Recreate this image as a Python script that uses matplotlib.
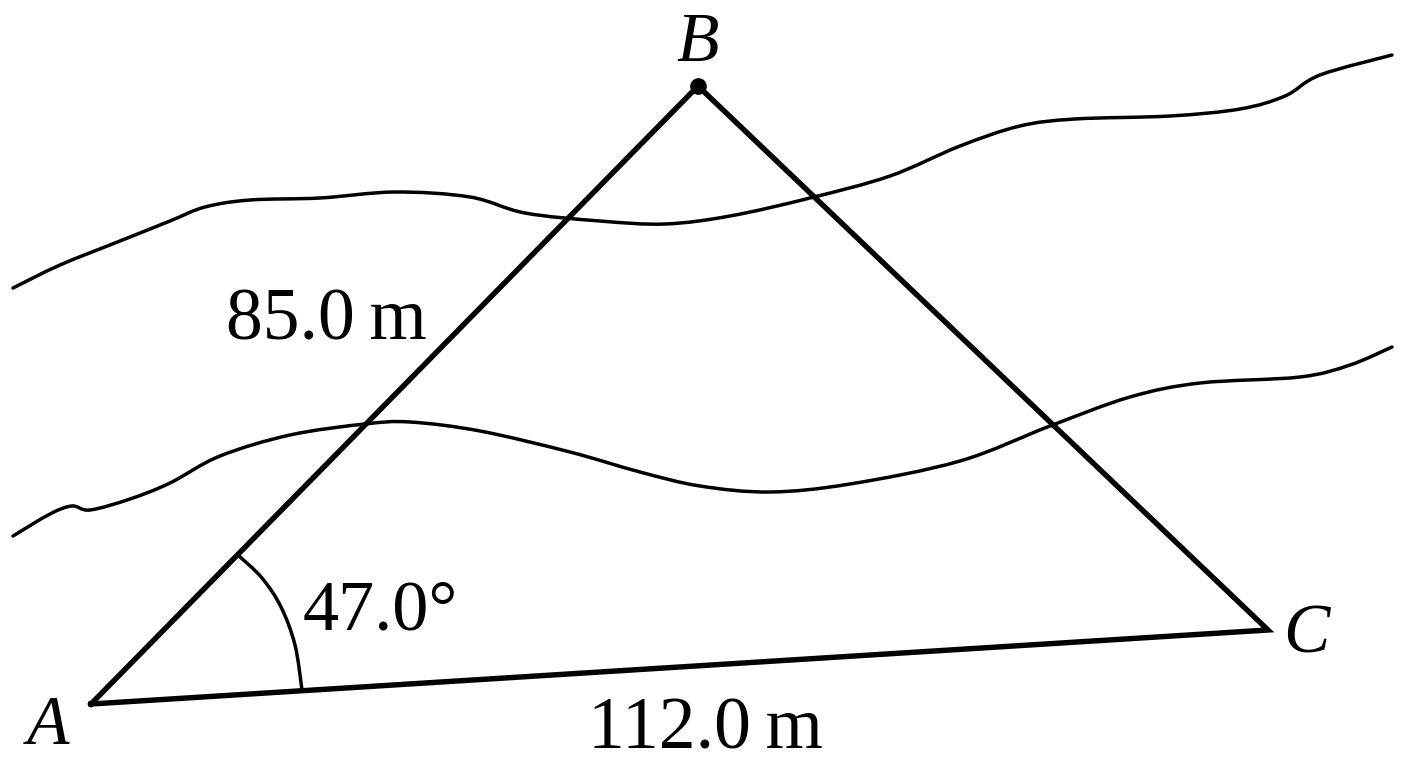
import numpy as np
import matplotlib
matplotlib.use('Agg')
import matplotlib.pyplot as plt
from matplotlib.path import Path
from matplotlib.patches import PathPatch

# triangle corners, read in image pixels
tri_x = [91, 698, 1268]
tri_y = [704, 86, 630]

# upper and lower river banks
bank1_x = [13, 60, 120, 170, 205, 250, 320, 395, 470, 525, 600, 665, 730, 810, 890, 960, 1020, 1075, 1170, 1240, 1285, 1320, 1392]
bank1_y = [288, 265, 241, 221, 207, 200, 198, 192, 197, 213, 221, 224, 216, 198, 176, 146, 126, 119, 116, 109, 96, 75, 55]
bank2_x = [13, 50, 72, 90, 130, 170, 220, 290, 365, 410, 480, 570, 640, 700, 770, 850, 960, 1050, 1130, 1200, 1300, 1350, 1392]
bank2_y = [536, 514, 506, 510, 499, 483, 456, 435, 424, 422, 431, 452, 472, 486, 492, 484, 461, 426, 397, 383, 377, 365, 347]

# angle arc
arc_x = [239, 262, 281, 295, 302]
arc_y = [556, 578, 607, 645, 690]

labels = ['A', 'B', 'C', '85.0\u2009m', '112.0\u2009m', '47.0°']

plt.rcParams['font.family'] = ['Liberation Serif', 'DejaVu Serif']

fig = plt.figure(figsize=(14.08, 7.68), dpi=100)
ax = fig.add_axes([0, 0, 1, 1])
ax.set_xlim(0, 1408)
ax.set_ylim(768, 0)
ax.axis('off')


def smooth(x, y, lw):
    # catmull-rom through the read points, as cubic beziers
    p = np.column_stack([x, y]).astype(float)
    p = np.vstack([p[0], p, p[-1]])
    verts = [p[1]]
    codes = [Path.MOVETO]
    for i in range(1, len(p) - 2):
        verts += [p[i] + (p[i + 1] - p[i - 1]) / 6, p[i + 1] - (p[i + 2] - p[i]) / 6, p[i + 1]]
        codes += [Path.CURVE4] * 3
    ax.add_patch(PathPatch(Path(verts, codes), fc='none', ec='black', lw=lw, capstyle='round'))


smooth(bank1_x, bank1_y, 2.5)
smooth(bank2_x, bank2_y, 2.5)
smooth(arc_x, arc_y, 2.5)

ax.plot(tri_x + [tri_x[0]], tri_y + [tri_y[0]], color='black', lw=3.9, solid_joinstyle='miter')
ax.plot(tri_x[1], tri_y[1], 'o', color='black', ms=11)

ax.text(48, 727, labels[0], fontsize=50, style='italic', ha='center', va='center')
ax.text(698, 44, labels[1], fontsize=50, style='italic', ha='center', va='center')
ax.text(1306, 636, labels[2], fontsize=50, style='italic', ha='center', va='center')
ax.text(326, 322, labels[3], fontsize=53, ha='center', va='center')
ax.text(705, 731, labels[4], fontsize=53, ha='center', va='center')
ax.text(380, 612, labels[5], fontsize=52, ha='center', va='center')

fig.savefig('out.png', dpi=100)
